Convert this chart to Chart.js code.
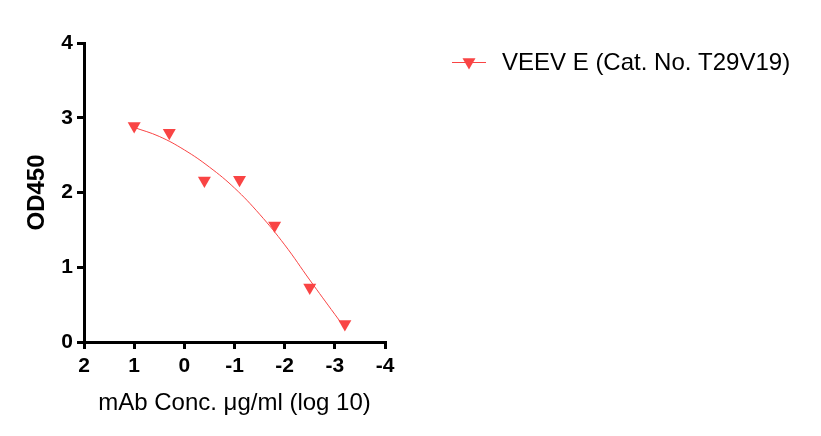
<!DOCTYPE html>
<html>
<head>
<meta charset="utf-8">
<title>VEEV E ELISA</title>
<script src="https://cdn.jsdelivr.net/npm/chart.js@4.4.1/dist/chart.umd.min.js"></script>
<style>
  html, body { margin: 0; padding: 0; background: #fff; }
  #wrap { width: 821px; height: 436px; }
</style>
</head>
<body>
<div id="wrap"><canvas id="myChart" width="821" height="436"></canvas></div>
<script>
// measured points (log10 of mAb conc, 5-fold dilutions)
const sampleLogConc = [1, 0.3, -0.4, -1.1, -1.8, -2.5, -3.2];
const sampleOD450 = [2.89, 2.80, 2.16, 2.17, 1.56, 0.73, 0.24];

// fitted curve
const fitLogConc = [1, 0.5, 0, -0.5, -1, -1.5, -2, -2.5, -3, -3.2];
const fitOD450 = [2.87, 2.75, 2.57, 2.34, 2.06, 1.71, 1.30, 0.83, 0.37, 0.19];

const xTicks = [2, 1, 0, -1, -2, -3, -4];
const yTicks = [0, 1, 2, 3, 4];

const seriesName = 'VEEV E (Cat. No. T29V19)';
const red = '#f94444';

Chart.defaults.font.family = '"Liberation Sans", Arial, sans-serif';
Chart.defaults.color = '#000';

function toXY(xs, ys) {
  return xs.map((x, i) => ({ x: x, y: ys[i] }));
}

// legend drawn on the right, like the prism export
const sideLegend = {
  id: 'sideLegend',
  afterDraw(chart) {
    const ctx = chart.ctx;
    const ds = chart.data.datasets[0];
    const y = 62;
    ctx.save();
    ctx.strokeStyle = red;
    ctx.lineWidth = 1;
    ctx.beginPath();
    ctx.moveTo(452, y + 0.5);
    ctx.lineTo(486, y + 0.5);
    ctx.stroke();
    ctx.fillStyle = red;
    Chart.helpers.drawPoint(ctx, { pointStyle: 'triangle', radius: 7.5, rotation: 180, borderWidth: 0 }, 469, y);
    ctx.fillStyle = '#000';
    ctx.font = '24px "Liberation Sans", Arial, sans-serif';
    ctx.textBaseline = 'middle';
    ctx.textAlign = 'left';
    ctx.fillText(ds.label, 502, y + 1);
    ctx.restore();
  }
};

const ctx = document.getElementById('myChart').getContext('2d');
new Chart(ctx, {
  type: 'scatter',
  data: {
    datasets: [
      {
        label: seriesName,
        data: toXY(sampleLogConc, sampleOD450),
        pointStyle: 'triangle',
        rotation: 180,
        pointRadius: 7.5,
        backgroundColor: red,
        borderColor: red,
        borderWidth: 0,
        showLine: false
      },
      {
        label: 'fit',
        data: toXY(fitLogConc, fitOD450),
        showLine: true,
        pointRadius: 0,
        borderColor: red,
        borderWidth: 1,
        tension: 0.4,
        fill: false
      }
    ]
  },
  plugins: [sideLegend],
  options: {
    responsive: false,
    animation: false,
    layout: { padding: { top: 43, right: 436, left: 0, bottom: 0 } },
    plugins: {
      legend: { display: false },
      tooltip: { enabled: false }
    },
    scales: {
      x: {
        type: 'linear',
        reverse: true,
        min: -4,
        max: 2,
        afterFit(scale) { scale.height = 94; },
        afterBuildTicks(scale) { scale.ticks = xTicks.map(v => ({ value: v })); },
        border: { display: true, width: 3, color: '#000' },
        grid: { drawOnChartArea: false, drawTicks: true, tickLength: 7, lineWidth: 3, color: '#000' },
        ticks: { padding: 5, font: { size: 21, weight: 'bold' }, color: '#000' },
        title: {
          display: true,
          text: 'mAb Conc. μg/ml (log 10)',
          font: { size: 24 },
          padding: { top: 0, bottom: 18 }
        }
      },
      y: {
        min: 0,
        max: 4,
        afterFit(scale) { scale.width = 84; },
        afterBuildTicks(scale) { scale.ticks = yTicks.map(v => ({ value: v })); },
        border: { display: true, width: 3, color: '#000' },
        grid: { drawOnChartArea: false, drawTicks: true, tickLength: 7, lineWidth: 3, color: '#000' },
        ticks: { padding: 4, font: { size: 21, weight: 'bold' }, color: '#000' },
        title: {
          display: true,
          text: 'OD450',
          font: { size: 24, weight: 'bold' },
          padding: { top: 23, bottom: 0 }
        }
      }
    }
  }
});
</script>
</body>
</html>
